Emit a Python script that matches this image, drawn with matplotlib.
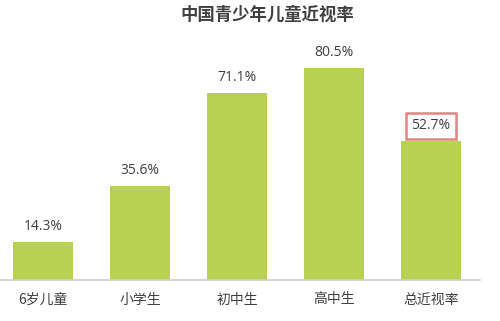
import matplotlib
matplotlib.use("Agg")
import matplotlib.pyplot as plt

plt.rcParams['font.family'] = ['Noto Sans CJK SC', 'DejaVu Sans']

categories = ["6岁儿童", "小学生", "初中生", "高中生", "总近视率"]
values = [14.3, 35.6, 71.1, 80.5, 52.7]
labels = ["14.3%", "35.6%", "71.1%", "80.5%", "52.7%"]
title = "中国青少年儿童近视率"

W, H = 500, 321
fig = plt.figure(figsize=(W/100, H/100), dpi=100)
ax = fig.add_axes([-5.5/W, 41/H, 485/W, 263/H])
x = list(range(len(categories)))
ax.bar(x, values, width=0.62, color="#b8d150")
ax.set_xlim(-0.5, len(categories) - 0.5)
ax.set_ylim(0, 100)
for s in ["top", "right", "left"]:
    ax.spines[s].set_visible(False)
ax.spines["bottom"].set_color("#d0d0d0")
ax.spines["bottom"].set_linewidth(1.2)
ax.set_yticks([])
ax.set_xticks(x)
ax.set_xticklabels(categories, fontsize=10, color="#404040")
ax.tick_params(axis="x", length=0, pad=9)
for i, (v, lab) in enumerate(zip(values, labels)):
    kw = {}
    if i == len(values) - 1:
        kw["bbox"] = dict(boxstyle="square,pad=0.4", fc="white", ec="#e08585", lw=1.8)
    ax.annotate(lab, (i, v), xytext=(0, 6), textcoords="offset points",
                ha="center", va="bottom", fontsize=10, color="#404040",
                family=["Open Sans", "DejaVu Sans"], **kw)
fig.text(267/W, 1 - 15/H, title, ha="center", va="center", fontsize=12.5,
         fontweight="bold", color="#404040")
fig.savefig("out.png", dpi=100, facecolor="white")
